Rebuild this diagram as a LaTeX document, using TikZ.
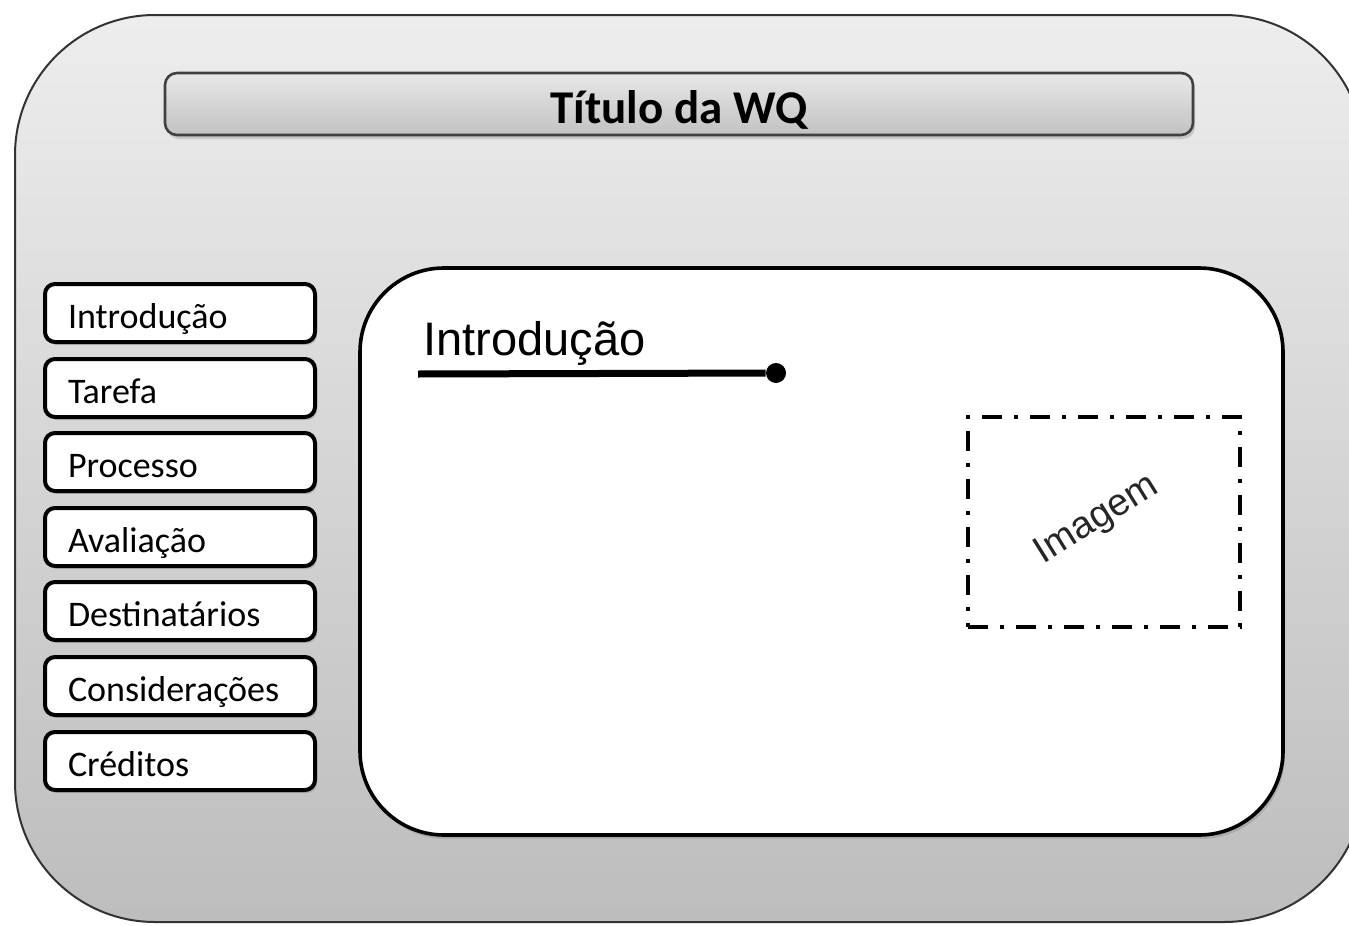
\documentclass[tikz,border=0pt]{standalone}
\usepackage{fontspec}
\setmainfont{Carlito}
\newfontfamily\arialfont{Liberation Sans}
\usepackage{tikz}
\usetikzlibrary{shadows}

\tikzset{
  menubox/.style={draw=black,line width=2pt,rounded corners=5pt,fill=white,
    minimum width=135pt,minimum height=29pt,inner xsep=11.5pt,
    text width=112pt,align=left,text height=17pt,text depth=2pt,
    font=\fontsize{18}{20}\selectfont,
    drop shadow={shadow xshift=1pt,shadow yshift=-1.5pt,opacity=.35}},
  dashdot/.style={line width=2pt,dash pattern=on 10pt off 6pt on 2pt off 6pt}
}

\begin{document}
\begin{tikzpicture}[x=0.5pt,y=-0.5pt]
\useasboundingbox (0,0) rectangle (1349,926);
% outer frame
\draw[draw=black!80,line width=1pt,rounded corners=70pt,top color=black!7,bottom color=black!26]
  (15,15) rectangle (1364,922);
% title bar
\node[draw=black!75,line width=1.3pt,rounded corners=6pt,top color=black!9,bottom color=black!24,
  minimum width=514pt,minimum height=31pt,text height=20pt,text depth=1pt,
  drop shadow={shadow xshift=1pt,shadow yshift=-2pt,opacity=.3},
  font=\fontsize{23.5}{26}\selectfont\bfseries] (titulo) at (679,104) {Título da WQ};
% menu
\node[menubox] (intro)  at (180,313) {Introdução};
\node[menubox] (tarefa) at (180,388) {Tarefa};
\node[menubox] (proc)   at (180,462) {Processo};
\node[menubox] (aval)   at (180,537) {Avaliação};
\node[menubox] (dest)   at (180,611) {Destinatários};
\node[menubox] (cons)   at (180,686) {Considerações};
\node[menubox] (cred)   at (180,761) {Créditos};
% content panel
\node[draw=black,line width=1.8pt,rounded corners=42pt,fill=white,
  minimum width=461.5pt,minimum height=283.5pt,
  drop shadow={shadow xshift=1pt,shadow yshift=-2pt,opacity=.35}] (painel) at (821.5,551.5) {};
\node[anchor=base west,inner sep=0pt,font=\arialfont\fontsize{23.5}{26}\selectfont] (cabec) at (423,355) {Introdução};
\coordinate (linha) at (418,374);
\node[circle,fill=black,inner sep=0pt,minimum size=10pt] (ponto) at (776,373) {};
\draw[line width=3.5pt,drop shadow={shadow xshift=1pt,shadow yshift=-2pt,opacity=.3}] (linha) -- (ponto);
% image placeholder
\node[draw=black,dashdot,minimum width=136pt,minimum height=105pt] (imagem) at (1104,522) {};
\node[rotate=32,inner sep=0pt,font=\arialfont\fontsize{19}{21}\selectfont,text=black!85] (imgtxt) at (1097,520) {Imagem};
\end{tikzpicture}
\end{document}
